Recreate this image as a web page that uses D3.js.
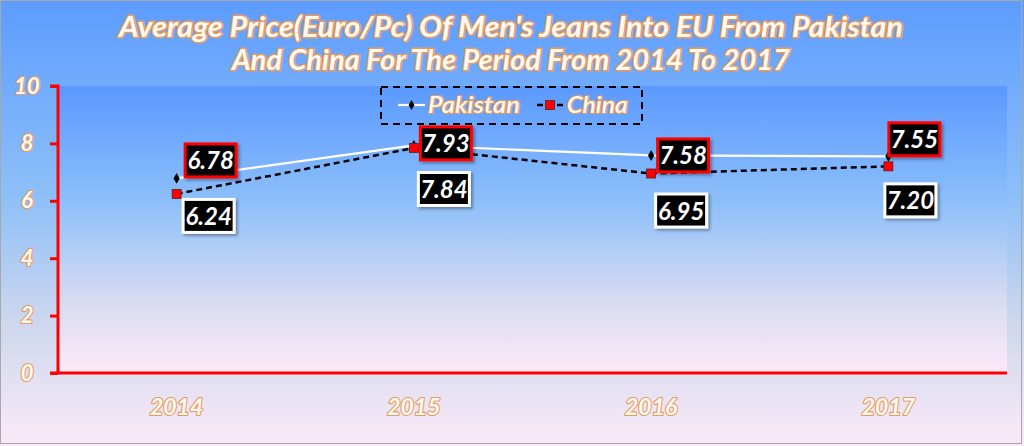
<!DOCTYPE html>
<html>
<head>
<meta charset="utf-8">
<script src="https://cdn.jsdelivr.net/npm/d3@7/dist/d3.min.js"></script>
<style>
  html, body { margin: 0; padding: 0; background: #fff; }
  svg { display: block; }
  .ot { font-family: Lato, "Open Sans", sans-serif; font-style: italic; font-weight: 700;
        fill: #fffaf4; stroke: #e79a5a; stroke-width: 2.2px; paint-order: stroke; stroke-linejoin: round; }
</style>
</head>
<body>
<svg id="chart" width="1024" height="446"></svg>
<script>
const years = ["2014", "2015", "2016", "2017"];
const pakistan = [6.78, 7.93, 7.58, 7.55];
const china = [6.24, 7.84, 6.95, 7.20];
const yTicks = [0, 2, 4, 6, 8, 10];
const titleLines = ["Average Price(Euro/Pc) Of Men's Jeans Into EU From Pakistan",
                    "And China For The Period From 2014 To 2017"];
const seriesNames = ["Pakistan", "China"];

// label placement (pixel offsets of label box centres from their points)
const pakLabelOffset = [[34, -18], [32, -2], [32, 0], [26, -17]];
const chnLabelOffset = [[32, 22], [30, 41], [30, 37], [22, 34]];

const W = 1024, H = 446;
const plot = { left: 58, right: 1007, top: 86, bottom: 373 };

const svg = d3.select("#chart");
const defs = svg.append("defs");

function vGrad(id, stops) {
  const g = defs.append("linearGradient").attr("id", id)
    .attr("x1", 0).attr("y1", 0).attr("x2", 0).attr("y2", 1);
  stops.forEach(s => g.append("stop").attr("offset", s[0]).attr("stop-color", s[1]));
}
vGrad("bgOuter", [[0, "#5c9cff"], [0.45, "#8fc0f8"], [0.72, "#cdd7ee"], [1, "#fbeaf8"]]);
vGrad("bgPlot", [[0, "#5b99ff"], [0.4, "#8cbffa"], [0.75, "#d8dcf1"], [1, "#fdeaf8"]]);

const sh = defs.append("filter").attr("id", "shadow").attr("x", "-20%").attr("y", "-20%")
  .attr("width", "150%").attr("height", "150%");
sh.append("feDropShadow").attr("dx", 2).attr("dy", 2).attr("stdDeviation", 1.5)
  .attr("flood-color", "#000").attr("flood-opacity", 0.35);

svg.append("rect").attr("x", 0).attr("y", 0).attr("width", W).attr("height", H)
  .attr("fill", "url(#bgOuter)");
svg.append("rect").attr("x", 0.5).attr("y", 0.5).attr("width", 1021).attr("height", 443)
  .attr("fill", "none").attr("stroke", "#a8a8a8").attr("stroke-width", 1);

svg.append("rect").attr("x", plot.left).attr("y", plot.top)
  .attr("width", plot.right - plot.left).attr("height", plot.bottom - plot.top)
  .attr("fill", "url(#bgPlot)");

const x = d3.scaleBand().domain(years).range([plot.left, plot.right]).paddingInner(0).paddingOuter(0);
const y = d3.scaleLinear().domain([0, 10]).range([plot.bottom, plot.top]);
const cx = d => x(d) + x.bandwidth() / 2;

// Title
const title = svg.append("g");
titleLines.forEach((t, i) => {
  title.append("text").attr("class", "ot")
    .attr("x", 511).attr("y", 37 + i * 33)
    .attr("text-anchor", "middle")
    .style("font-size", "28px").style("stroke-width", "2.8px")
    .attr("textLength", i === 0 ? 784 : 558).attr("lengthAdjust", "spacingAndGlyphs")
    .text(t);
});

// Y axis
const yAxis = d3.axisLeft(y).tickValues(yTicks).tickSize(8).tickPadding(14).tickFormat(d3.format("d"));
const gy = svg.append("g").attr("transform", `translate(${plot.left},0)`).call(yAxis);
gy.select(".domain").attr("stroke", "#ff0000").attr("stroke-width", 3)
  .attr("d", `M-8,${plot.top}H0V${plot.bottom}`);
gy.selectAll(".tick line").attr("stroke", "#ff0000").attr("stroke-width", 3);
gy.selectAll(".tick text").attr("class", "ot").attr("fill", null)
  .style("font-size", "22px").attr("text-anchor", "middle").attr("x", -31);

// X axis
const xAxis = d3.axisBottom(x).tickSize(0).tickPadding(26);
const gx = svg.append("g").attr("transform", `translate(0,${plot.bottom})`).call(xAxis);
gx.select(".domain").attr("stroke", "#ff0000").attr("stroke-width", 3)
  .attr("d", `M${plot.left - 8},0H${plot.right}`);
gx.selectAll(".tick text").attr("class", "ot").attr("fill", null)
  .style("font-size", "23px");

// Lines
const line = d3.line().x((d, i) => cx(years[i])).y(d => y(d));
svg.append("path").datum(china).attr("d", line).attr("fill", "none")
  .attr("stroke", "#000").attr("stroke-width", 2.5).attr("stroke-dasharray", "6,4");
svg.append("path").datum(pakistan).attr("d", line).attr("fill", "none")
  .attr("stroke", "#fff").attr("stroke-width", 2.2);

// Markers
svg.append("g").selectAll("path").data(pakistan).join("path")
  .attr("d", d3.symbol(d3.symbolDiamond, 34))
  .attr("transform", (d, i) => `translate(${cx(years[i])},${y(d)})`)
  .attr("fill", "#000");
svg.append("g").selectAll("rect").data(china).join("rect")
  .attr("x", (d, i) => cx(years[i]) - 4.5).attr("y", d => y(d) - 4.5)
  .attr("width", 9).attr("height", 9)
  .attr("fill", "#ff0000").attr("stroke", "#5a2020").attr("stroke-width", 0.8);

// Data labels
function labels(data, offsets, border) {
  const g = svg.append("g").selectAll("g").data(data).join("g")
    .attr("transform", (d, i) => `translate(${cx(years[i]) + offsets[i][0]},${y(d) + offsets[i][1]})`);
  g.append("rect").attr("x", -25.5).attr("y", -16.5).attr("width", 51).attr("height", 33)
    .attr("fill", "#000").attr("stroke", border).attr("stroke-width", 3)
    .attr("filter", "url(#shadow)");
  g.append("text").attr("text-anchor", "middle").attr("y", 9)
    .style("font-family", "Lato, 'Open Sans', sans-serif").style("font-style", "italic")
    .style("font-weight", 700).style("font-size", "24px").attr("fill", "#fff")
    .text(d => d3.format(".2f")(d));
}
labels(pakistan, pakLabelOffset, "#ff0000");
labels(china, chnLabelOffset, "#ffffff");

// Legend
const lg = svg.append("g");
lg.append("rect").attr("x", 381).attr("y", 87).attr("width", 261).attr("height", 37)
  .attr("fill", "none").attr("stroke", "#000").attr("stroke-width", 2).attr("stroke-dasharray", "7,5");
lg.append("line").attr("x1", 398).attr("x2", 425).attr("y1", 105).attr("y2", 105)
  .attr("stroke", "#fff").attr("stroke-width", 2.2);
lg.append("path").attr("d", d3.symbol(d3.symbolDiamond, 30)).attr("transform", "translate(411.5,105)")
  .attr("fill", "#000");
lg.append("text").attr("class", "ot").attr("x", 428).attr("y", 113).style("font-size", "23px")
  .style("font-weight", 600).attr("textLength", 92).attr("lengthAdjust", "spacingAndGlyphs")
  .text(seriesNames[0]);
lg.append("line").attr("x1", 537).attr("x2", 563).attr("y1", 105).attr("y2", 105)
  .attr("stroke", "#000").attr("stroke-width", 2.5).attr("stroke-dasharray", "6,4");
lg.append("rect").attr("x", 545.5).attr("y", 100.5).attr("width", 9).attr("height", 9)
  .attr("fill", "#ff0000").attr("stroke", "#5a2020").attr("stroke-width", 0.8);
lg.append("text").attr("class", "ot").attr("x", 567).attr("y", 113).style("font-size", "23px")
  .style("font-weight", 600).attr("textLength", 61).attr("lengthAdjust", "spacingAndGlyphs")
  .text(seriesNames[1]);
</script>
</body>
</html>
